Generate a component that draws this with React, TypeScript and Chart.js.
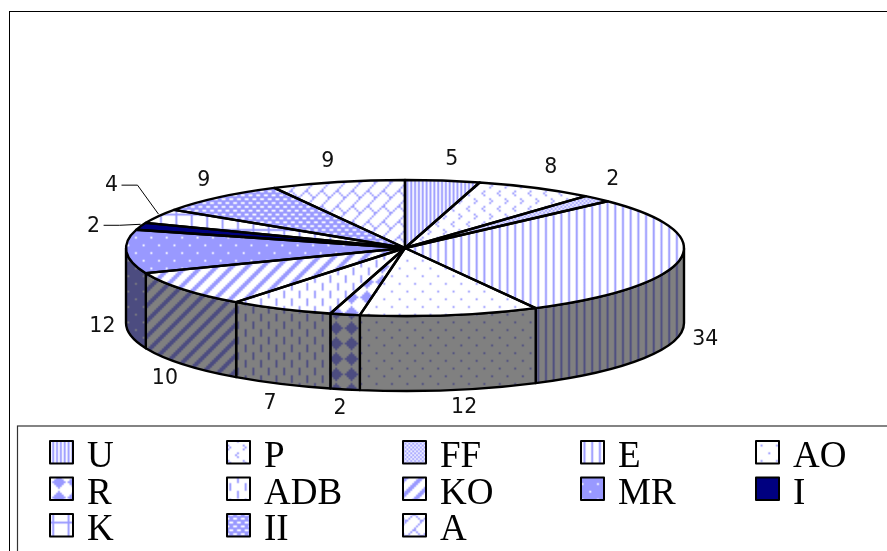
import React, { useEffect, useRef } from "react";
import { Chart, registerables } from "chart.js";

Chart.register(...registerables);

const categories = ["U", "P", "FF", "E", "AO", "R", "ADB", "KO", "MR", "I", "K", "II", "A"];
const values = [5, 8, 2, 34, 12, 2, 7, 10, 12, 2, 4, 9, 9];

const WIDTH = 887;
const HEIGHT = 551;
const CX = 405;
const CY = 248;
const RX = 279;
const RY = 68;
const DEPTH = 75;
const SQUASH = RY / RX;
const CELL = 1.925;
const TILE_SCALE = 4;
const PHASE_X = 6;
const PHASE_Y = -2;

// 8x8 fill bitmaps: "#" = foreground pixel
const bitmaps: Record<string, string[]> = {
  U: ["#.#.#.#.", "#.#.#.#.", "#.#.#.#.", "#.#.#.#.", "#.#.#.#.", "#.#.#.#.", "#.#.#.#.", "#.#.#.#."],
  P: ["...#....", "....#...", "...#....", "........", "#.......", ".......#", "#.......", "........"],
  FF: ["#.#.#.#.", ".#.#.#.#", "#.#.#.#.", ".#.#.#.#", "#.#.#.#.", ".#.#.#.#", "#.#.#.#.", ".#.#.#.#"],
  E: ["#...#...", "#...#...", "#...#...", "#...#...", "#...#...", "#...#...", "#...#...", "#...#..."],
  AO: ["#.......", "........", "........", "........", "....#...", "........", "........", "........"],
  R: ["...#....", "..###...", ".#####..", "#######.", ".#####..", "..###...", "...#....", "........"],
  ADB: ["#.......", "#.......", "#.......", "#.......", "....#...", "....#...", "....#...", "....#..."],
  KO: ["##.....#", "#.....##", ".....###", "....###.", "...###..", "..###...", ".###....", "###....."],
  MR: ["#######.", "########", "########", "########", "###.####", "########", "########", "########"],
  I: ["########", "########", "########", "########", "########", "########", "########", "########"],
  K: ["########", "#.......", "#.......", "#.......", "#.......", "#.......", "#.......", "#......."],
  II: ["..##..##", "########", "##..##..", "########", "..##..##", "########", "##..##..", "########"],
  A: [".......#", "......#.", ".....#..", "....#...", "...##...", "..#..#..", ".#....#.", "#......#"],
};

const FACE_FG = "#9999ff";
const FACE_BG = "#ffffff";
const WALL_FG = "#4c4c80";
const WALL_BG = "#808080";
const SOLID = "#000080";

function makeFill(ctx: CanvasRenderingContext2D, name: string, wall: boolean, matrix: DOMMatrix): CanvasPattern {
  const size = 8 * TILE_SCALE;
  // sharp 3x3 sheet, so that the softened centre tile still wraps seamlessly
  const sheet = document.createElement("canvas");
  sheet.width = size * 3;
  sheet.height = size * 3;
  const s = sheet.getContext("2d")!;
  const fg = name === "I" ? (wall ? "#000040" : SOLID) : wall ? WALL_FG : FACE_FG;
  const bg = wall ? WALL_BG : FACE_BG;
  s.fillStyle = bg;
  s.fillRect(0, 0, sheet.width, sheet.height);
  s.fillStyle = fg;
  for (let i = 0; i < 3; i++) {
    for (let j = 0; j < 3; j++) {
      bitmaps[name].forEach((row, y) => {
        for (let x = 0; x < 8; x++) {
          if (row[x] === "#") {
            s.fillRect(i * size + x * TILE_SCALE, j * size + y * TILE_SCALE, TILE_SCALE, TILE_SCALE);
          }
        }
      });
    }
  }
  const tile = document.createElement("canvas");
  tile.width = size;
  tile.height = size;
  const t = tile.getContext("2d")!;
  t.filter = "blur(1.2px)";
  t.drawImage(sheet, -size, -size);
  const pattern = ctx.createPattern(tile, "repeat")!;
  pattern.setTransform(matrix);
  return pattern;
}

const cell = CELL / TILE_SCALE;
const plain = () => new DOMMatrix().translate(PHASE_X, PHASE_Y).scale(cell, cell);
const unsquashed = () =>
  new DOMMatrix()
    .translate(0, CY)
    .scale(1, 1 / SQUASH)
    .translate(0, -CY)
    .translate(PHASE_X, PHASE_Y)
    .scale(cell, cell);

// distance of each value label from its point on the rim
const labelNudges = [
  [9, -21], [15, -20], [16, -19], [25, 6], [14, 18], [-5, 19], [-11, 20],
  [-18, 15], [-24, 0], [-47, 0], [-47, -30], [-15, -17], [-10, -20],
];
const leaderLabels = ["I", "K"];

const legendColumns = [50, 227, 403, 581, 756];
const legendRows = [441, 477.5, 514];

function makePie3d(wallFills: CanvasPattern[], legendFills: CanvasPattern[]) {
  return {
    id: "pie3d",
    beforeDatasetsDraw(chart: any) {
      const ctx = chart.ctx;
      const arcs = chart.getDatasetMeta(0).data;
      // outer frame and legend frame
      ctx.save();
      ctx.strokeStyle = "#000";
      ctx.lineWidth = 1;
      ctx.strokeRect(9.5, 11.5, WIDTH + 20, HEIGHT + 20);
      ctx.strokeStyle = "#333";
      ctx.lineWidth = 1.2;
      ctx.strokeRect(17.5, 426, WIDTH + 20, HEIGHT);
      // side wall
      arcs.forEach((arc: any, i: number) => {
        const { startAngle, endAngle, x, y, outerRadius } = arc;
        const a = Math.max(startAngle, 0);
        const b = Math.min(endAngle, Math.PI);
        if (b <= a) return;
        const ry = outerRadius * SQUASH;
        ctx.beginPath();
        ctx.ellipse(x, y, outerRadius, ry, 0, a, b);
        ctx.ellipse(x, y + DEPTH, outerRadius, ry, 0, b, a, true);
        ctx.closePath();
        ctx.fillStyle = wallFills[i];
        ctx.fill();
        ctx.strokeStyle = "#000";
        ctx.lineWidth = 2.4;
        ctx.lineJoin = "round";
        ctx.stroke();
      });
      ctx.restore();
    },
    beforeDatasetDraw(chart: any) {
      const ctx = chart.ctx;
      ctx.save();
      ctx.translate(0, CY);
      ctx.scale(1, SQUASH);
      ctx.translate(0, -CY);
    },
    afterDatasetDraw(chart: any) {
      chart.ctx.restore();
    },
    afterDatasetsDraw(chart: any) {
      const ctx = chart.ctx;
      const arcs = chart.getDatasetMeta(0).data;
      const labels: string[] = chart.data.labels;
      const data: number[] = chart.data.datasets[0].data;
      ctx.save();
      ctx.strokeStyle = "#000";
      ctx.lineWidth = 2.4;
      ctx.lineJoin = "round";
      arcs.forEach((arc: any) => {
        const { startAngle, endAngle, x, y, outerRadius } = arc;
        ctx.beginPath();
        ctx.moveTo(x, y);
        ctx.ellipse(x, y, outerRadius, outerRadius * SQUASH, 0, startAngle, endAngle);
        ctx.closePath();
        ctx.stroke();
      });
      // value labels
      ctx.font = '20.5px "DejaVu Sans"';
      ctx.textAlign = "center";
      ctx.textBaseline = "middle";
      ctx.fillStyle = "#111";
      arcs.forEach((arc: any, i: number) => {
        const mid = (arc.startAngle + arc.endAngle) / 2;
        const px = arc.x + arc.outerRadius * Math.cos(mid);
        const rim = arc.y + arc.outerRadius * SQUASH * Math.sin(mid);
        const py = rim + (Math.sin(mid) > 0 ? DEPTH : 0);
        const lx = px + labelNudges[i][0];
        const ly = py + labelNudges[i][1];
        ctx.fillText(String(data[i]), lx, ly);
        if (leaderLabels.includes(labels[i])) {
          ctx.beginPath();
          ctx.lineWidth = 1;
          ctx.moveTo(lx + 10, ly - 1);
          ctx.lineTo(lx + 26, ly - 1);
          ctx.lineTo(px, py - 2);
          ctx.stroke();
        }
      });
      // legend
      ctx.textAlign = "left";
      ctx.textBaseline = "alphabetic";
      ctx.font = '37px "Liberation Serif"';
      labels.forEach((name, i) => {
        const sx = legendColumns[i % 5];
        const sy = legendRows[Math.floor(i / 5)];
        ctx.fillStyle = legendFills[i];
        ctx.lineWidth = 2;
        ctx.strokeStyle = "#000";
        ctx.beginPath();
        ctx.rect(sx, sy, 23, 22.5);
        ctx.fill();
        ctx.stroke();
        ctx.fillStyle = "#000";
        ctx.fillText(name, sx + 37, sy + 26);
      });
      ctx.restore();
    },
  };
}

export default function App() {
  const ref = useRef<HTMLCanvasElement | null>(null);
  useEffect(() => {
    const canvas = ref.current!;
    const ctx = canvas.getContext("2d")!;
    const faceFills = categories.map((c) => makeFill(ctx, c, false, unsquashed()));
    const wallFills = categories.map((c) => makeFill(ctx, c, true, plain()));
    const legendFills = categories.map((c) => makeFill(ctx, c, false, plain()));
    const chart = new Chart(canvas, {
      type: "pie",
      data: {
        labels: categories,
        datasets: [
          {
            data: values,
            backgroundColor: faceFills,
            borderWidth: 0,
            radius: RX,
          } as any,
        ],
      },
      options: {
        responsive: false,
        animation: false,
        events: [],
        rotation: 0,
        layout: { padding: { left: 0, top: 0, right: WIDTH - 2 * CX, bottom: HEIGHT - 2 * CY } },
        plugins: { legend: { display: false }, tooltip: { enabled: false }, title: { display: false } },
      },
      plugins: [makePie3d(wallFills, legendFills)],
    } as any);
    return () => chart.destroy();
  }, []);
  return (
    <canvas
      ref={ref}
      width={WIDTH}
      height={HEIGHT}
      style={{ position: "absolute", left: 0, top: 0, width: WIDTH, height: HEIGHT, display: "block" }}
    />
  );
}
